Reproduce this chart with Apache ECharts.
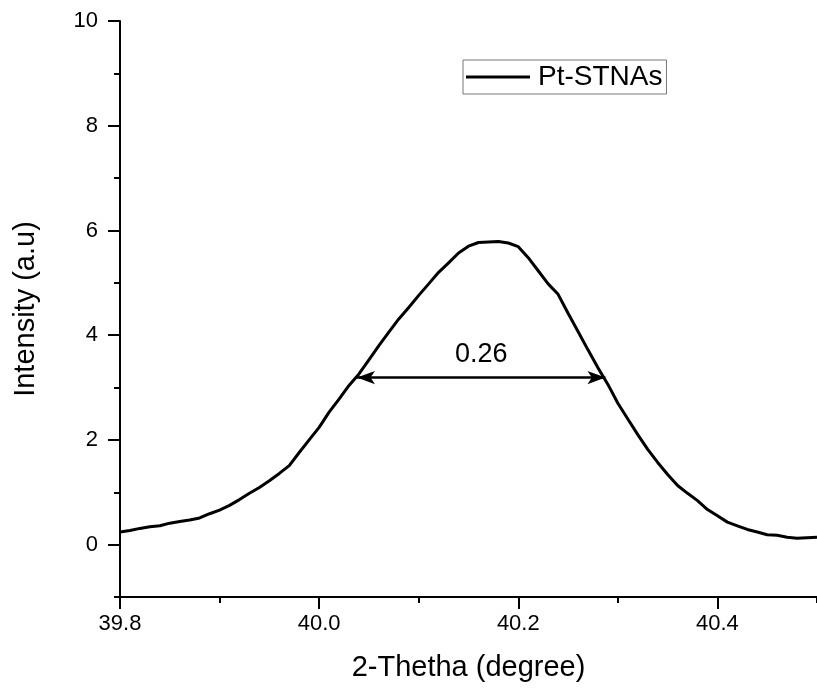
<!DOCTYPE html>
<html>
<head>
<meta charset="utf-8">
<script src="https://cdn.jsdelivr.net/npm/echarts@6/dist/echarts.min.js"></script>
<style>html,body{margin:0;padding:0;background:#fff;}#chart{width:817px;height:694px;}</style>
</head>
<body>
<div id="chart"></div>
<script>
// Data
const xValues = [39.80,39.81,39.82,39.83,39.84,39.85,39.86,39.87,39.88,39.89,
  39.90,39.91,39.92,39.93,39.94,39.95,39.96,39.97,39.98,39.99,
  40.00,40.01,40.02,40.03,40.04,40.05,40.06,40.07,40.08,40.09,
  40.10,40.11,40.12,40.13,40.14,40.15,40.16,40.17,40.18,40.19,
  40.20,40.21,40.22,40.23,40.24,40.25,40.26,40.27,40.28,40.29,
  40.30,40.31,40.32,40.33,40.34,40.35,40.36,40.37,40.38,40.39,
  40.40,40.41,40.42,40.43,40.44,40.45,40.46,40.47,40.48,40.49,40.50];
const intensity = [0.24,0.27,0.31,0.34,0.36,0.41,0.44,0.47,0.51,0.59,
  0.66,0.75,0.86,0.98,1.09,1.22,1.36,1.51,1.76,2.00,
  2.24,2.53,2.78,3.04,3.26,3.53,3.80,4.06,4.31,4.53,
  4.76,4.98,5.20,5.38,5.57,5.70,5.77,5.78,5.79,5.76,
  5.69,5.48,5.23,4.98,4.78,4.42,4.07,3.72,3.38,3.06,
  2.70,2.40,2.10,1.82,1.57,1.34,1.13,0.98,0.84,0.67,
  0.55,0.43,0.36,0.29,0.24,0.19,0.18,0.14,0.12,0.13,0.14];
const seriesName = 'Pt-STNAs';
const xMajorTicks = [39.8, 40.0, 40.2, 40.4];
const xMinorTicks = [39.9, 40.1, 40.3, 40.5];
const yMajorTicks = [0, 2, 4, 6, 8, 10];
const yMinorTicks = [-1, 1, 3, 5, 7, 9];
const xRange = [39.8, 40.5];
const yRange = [-1, 10];
const fwhmX = [40.038, 40.2875];
const fwhmY = 3.19;
const fwhmLabel = '0.26';

const FONT = "'Liberation Sans', Arial, sans-serif";
const chart = echarts.init(document.getElementById('chart'), null, {renderer: 'canvas'});
const gridRect = {left: 120, top: 21, right: -4, bottom: 97};
const lineW = 2;
const option = {
  backgroundColor: '#fff',
  animation: false,
  grid: [Object.assign({}, gridRect), Object.assign({}, gridRect)],
  legend: {
    data: [{name: seriesName, icon: 'rect'}],
    left: 463, top: 60,
    itemWidth: 64, itemHeight: 3,
    padding: [3, 4, 3, 3],
    borderColor: '#777', borderWidth: 1,
    itemStyle: {color: '#000'},
    textStyle: {fontSize: 28, color: '#000', fontFamily: FONT, padding: [0, 0, 0, 3]}
  },
  xAxis: [{
    type: 'value', gridIndex: 0, min: xRange[0], max: xRange[1],
    name: '2-Thetha (degree)', nameLocation: 'middle', nameGap: 56,
    nameTextStyle: {fontSize: 29, color: '#000', fontFamily: FONT},
    axisLine: {onZero: false, lineStyle: {color: '#000', width: lineW}},
    axisTick: {show: true, customValues: xMajorTicks, length: 12, lineStyle: {color: '#000', width: lineW}},
    axisLabel: {customValues: xMajorTicks, margin: 16, fontSize: 22, color: '#000', fontFamily: FONT,
      formatter: v => v.toFixed(1)},
    splitLine: {show: false}
  }, {
    type: 'value', gridIndex: 1, min: xRange[0], max: xRange[1],
    axisLine: {show: false, onZero: false},
    axisTick: {show: true, customValues: xMinorTicks, length: 6, lineStyle: {color: '#000', width: lineW}},
    axisLabel: {show: false},
    splitLine: {show: false}
  }],
  yAxis: [{
    type: 'value', gridIndex: 0, min: yRange[0], max: yRange[1],
    name: 'Intensity (a.u)', nameLocation: 'middle', nameGap: 80, nameRotate: 90,
    nameTextStyle: {fontSize: 29, color: '#000', fontFamily: FONT},
    axisLine: {show: true, onZero: false, lineStyle: {color: '#000', width: lineW}},
    axisTick: {show: true, customValues: yMajorTicks, length: 12, lineStyle: {color: '#000', width: lineW}},
    axisLabel: {customValues: yMajorTicks, margin: 22, fontSize: 22, color: '#000', fontFamily: FONT},
    splitLine: {show: false}
  }, {
    type: 'value', gridIndex: 1, min: yRange[0], max: yRange[1],
    axisLine: {show: false, onZero: false},
    axisTick: {show: true, customValues: yMinorTicks, length: 6, lineStyle: {color: '#000', width: lineW}},
    axisLabel: {show: false},
    splitLine: {show: false}
  }],
  series: [{
    name: seriesName,
    type: 'line',
    xAxisIndex: 0, yAxisIndex: 0,
    data: xValues.map((x, i) => [x, intensity[i]]),
    symbol: 'none',
    lineStyle: {color: '#000', width: 3},
    itemStyle: {color: '#000'},
    markLine: {
      silent: true,
      symbol: ['arrow', 'arrow'],
      lineStyle: {color: '#000', width: 2.5, type: 'solid'},
      label: {show: true, position: 'insideMiddleTop', formatter: fwhmLabel, fontSize: 27,
        color: '#000', fontFamily: FONT, distance: 10},
      emphasis: {disabled: true},
      data: [[
        {coord: [fwhmX[0], fwhmY], symbolSize: [10, 18]},
        {coord: [fwhmX[1], fwhmY], symbolSize: [10, 18]}
      ]]
    }
  }]
};
chart.setOption(option);
</script>
</body>
</html>
